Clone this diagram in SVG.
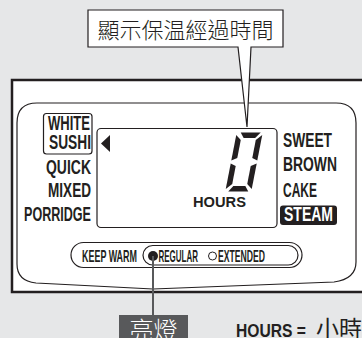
<svg xmlns="http://www.w3.org/2000/svg" width="362" height="338" viewBox="0 0 362 338">
<style>
.lbl{font-family:"Liberation Sans",Arial,sans-serif;font-weight:bold;font-size:19.5px;fill:#231f20}
.kw{font-family:"Liberation Sans",Arial,sans-serif;font-weight:bold;font-size:17px;fill:#231f20}
.cjk{font-family:"Noto Sans CJK TC","Noto Sans CJK SC",sans-serif}
.ln{fill:none;stroke:#231f20;stroke-width:1.2}
.seg{fill:#231f20}
</style>
<rect width="362" height="338" fill="#e6e7e8"/>
<g id="panel">
<rect x="12" y="80" width="360" height="212" fill="#fff" stroke="#231f20" stroke-width="2.5"/>
<path class="ln" d="M17,264 V123 Q17,103 37,103 H336 Q356,103 356,123 V262 Q356,279 334,282 L153,289 L36,283 Q17,281 17,264 Z"/>
</g>
<g id="menu-left">
<rect class="ln" x="43.5" y="113.5" width="48.5" height="40.5" rx="3"/>
<text class="lbl" x="48" y="130" textLength="42" lengthAdjust="spacingAndGlyphs">WHITE</text>
<text class="lbl" x="49" y="149" textLength="42" lengthAdjust="spacingAndGlyphs">SUSHI</text>
<text class="lbl" x="46" y="174" textLength="45" lengthAdjust="spacingAndGlyphs">QUICK</text>
<text class="lbl" x="48" y="197" textLength="43" lengthAdjust="spacingAndGlyphs">MIXED</text>
<text class="lbl" x="24" y="221" textLength="67" lengthAdjust="spacingAndGlyphs">PORRIDGE</text>
</g>
<g id="display">
<rect class="ln" x="97" y="128.5" width="180" height="99" rx="4" stroke-width="1"/>
<polygon class="seg" points="101,143.5 110,135 110,152"/>
<g transform="translate(244,162) skewX(-11)">
<polygon class="seg" points="-9,-29.5 11,-29.5 6.5,-24 -5,-24"/>
<polygon class="seg" points="-13,-27 -7.5,-22 -7.5,-4 -13,-1.5"/>
<polygon class="seg" points="13,-27 13,-1.5 7.5,-4 7.5,-22"/>
<polygon class="seg" points="-13,1.5 -7.5,4 -7.5,22 -13,27"/>
<polygon class="seg" points="13,1.5 13,27 7.5,22 7.5,4"/>
<polygon class="seg" points="-10,29.5 10,29.5 6,24 -6,24"/>
</g>
<text class="lbl" x="193" y="207" textLength="53" lengthAdjust="spacingAndGlyphs" style="font-size:15px">HOURS</text>
</g>
<g id="menu-right">
<text class="lbl" x="283" y="147" textLength="49" lengthAdjust="spacingAndGlyphs">SWEET</text>
<text class="lbl" x="283" y="171" textLength="54" lengthAdjust="spacingAndGlyphs">BROWN</text>
<text class="lbl" x="283" y="197" textLength="34" lengthAdjust="spacingAndGlyphs">CAKE</text>
<rect x="280" y="205.5" width="57" height="19.5" rx="3" fill="#231f20"/>
<text class="lbl" x="284" y="221" textLength="49" lengthAdjust="spacingAndGlyphs" style="fill:#fff">STEAM</text>
</g>
<g id="keep-warm">
<rect class="ln" x="71" y="242.5" width="231" height="25" rx="12.5"/>
<rect class="ln" x="143" y="245.5" width="155" height="19.5" rx="9.75"/>
<text class="kw" x="82" y="261.5" textLength="55" lengthAdjust="spacingAndGlyphs">KEEP WARM</text>
<circle cx="153" cy="256" r="5" fill="#231f20"/>
<text class="kw" x="158.5" y="261.5" textLength="39.5" lengthAdjust="spacingAndGlyphs">REGULAR</text>
<circle cx="212.5" cy="256" r="4" fill="none" stroke="#231f20" stroke-width="1"/>
<text class="kw" x="218" y="261.5" textLength="47" lengthAdjust="spacingAndGlyphs">EXTENDED</text>
</g>
<g id="connectors">
<line x1="153" y1="256" x2="153" y2="316" stroke="#58595b" stroke-width="2"/>
</g>
<g id="callout">
<path d="M88,10 H283 V47 H251 L247,127 L238,47 H88 Z" fill="#fff" stroke="#231f20" stroke-width="1.2" stroke-linejoin="miter"/>
<text class="cjk" x="185.5" y="38" text-anchor="middle" font-size="22" font-weight="300" fill="#231f20">顯示保温經過時間</text>
</g>
<g id="lamp-label">
<rect x="119" y="315" width="69" height="30" fill="#58595b"/>
<text class="cjk" x="153.5" y="339" text-anchor="middle" font-size="24" font-weight="300" fill="#fff">亮燈</text>
</g>
<g id="note">
<text x="236" y="337" style="font-family:'Liberation Sans',Arial,sans-serif;font-weight:bold;font-size:19px;fill:#231f20"><tspan textLength="70" lengthAdjust="spacingAndGlyphs">HOURS =</tspan><tspan x="316" style="font-family:'Noto Sans CJK TC','Noto Sans CJK SC',sans-serif;font-weight:normal;font-size:23px">小時</tspan></text>
</g>
</svg>
